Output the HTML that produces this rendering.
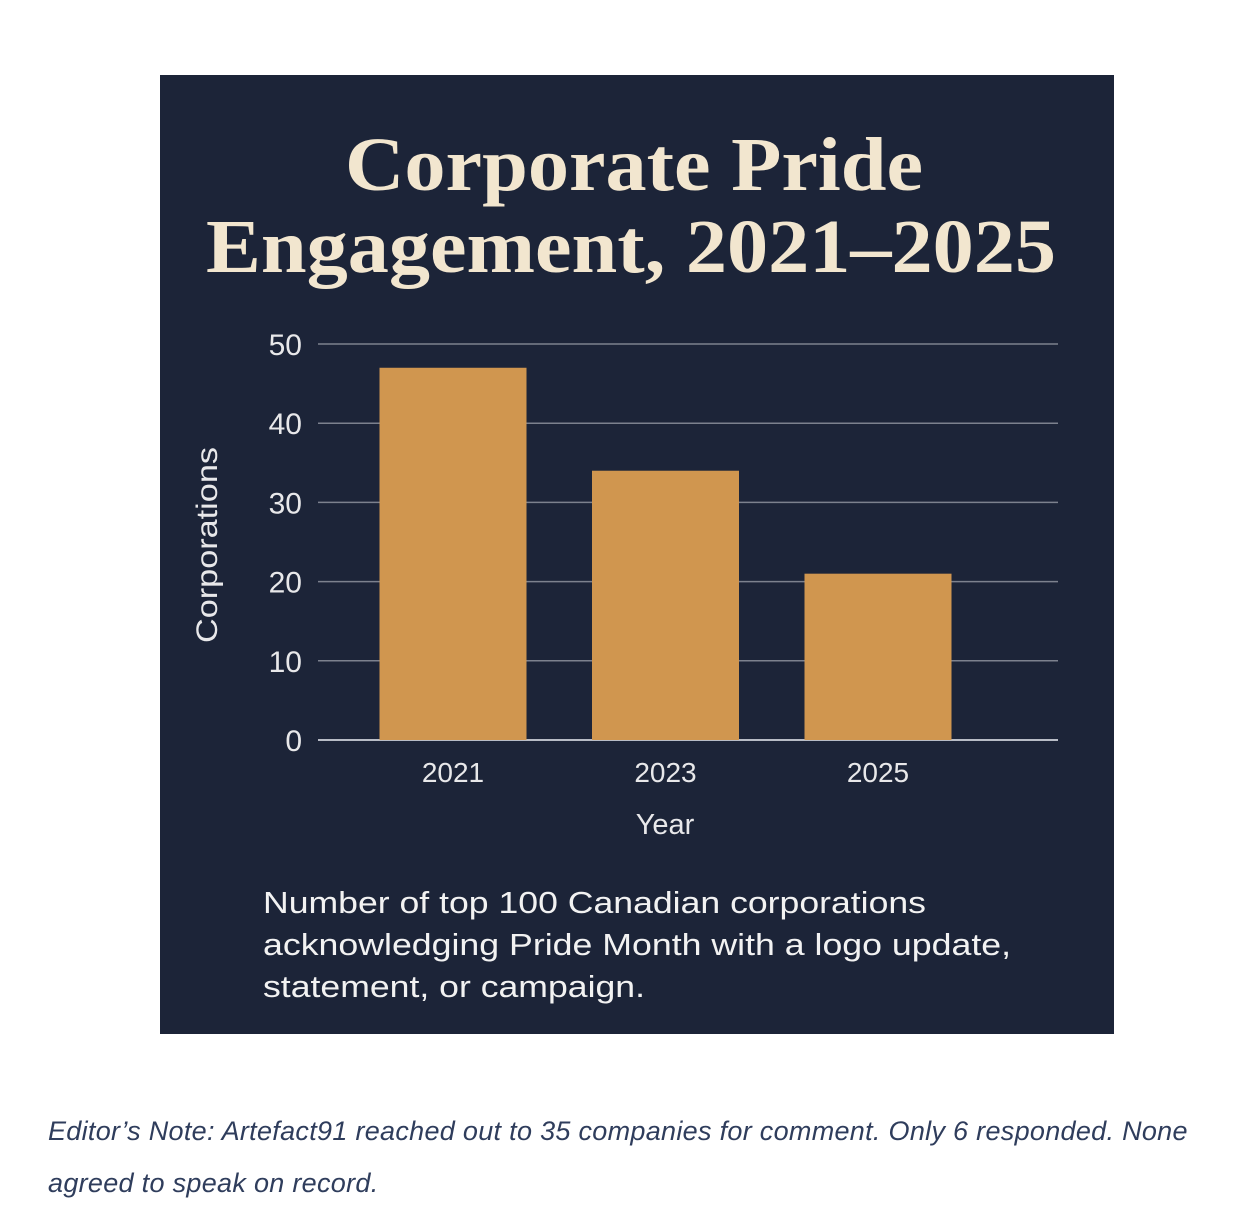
<!DOCTYPE html>
<html><head><meta charset="utf-8"><style>
body{margin:0;background:#fff;width:1236px;height:1224px;position:relative;overflow:hidden}
.panel{position:absolute;left:160px;top:75px;width:954px;height:959px;background:#1c2438}
.note{position:absolute;left:48px;top:1105px;width:1180px;font-family:"Liberation Sans",sans-serif;font-style:italic;font-size:27px;line-height:52px;color:#2f3d5c;letter-spacing:0.3px;white-space:nowrap}
</style></head><body>
<div class="panel"></div>
<svg id="chart" width="1236" height="1224" style="position:absolute;left:0;top:0">
<text x="345" y="190" textLength="578" lengthAdjust="spacingAndGlyphs" font-family="Liberation Serif,serif" font-weight="bold" font-size="76" fill="#f2e6cf">Corporate Pride</text>
<text x="206" y="272" textLength="850" lengthAdjust="spacingAndGlyphs" font-family="Liberation Serif,serif" font-weight="bold" font-size="76" fill="#f2e6cf">Engagement, 2021–2025</text>
<g id="grid"></g><g id="bars"></g><g id="labels"></g>
<text x="665" y="834" text-anchor="middle" font-family="Liberation Sans,sans-serif" font-size="29" fill="#e8e8ea">Year</text>
<text transform="translate(217,545) rotate(-90)" text-anchor="middle" textLength="196" lengthAdjust="spacingAndGlyphs" font-family="Liberation Sans,sans-serif" font-size="30" fill="#e8e8ea">Corporations</text>
<g font-family="Liberation Sans,sans-serif" font-size="31" fill="#f2f2f2">
<text x="263" y="913" textLength="663" lengthAdjust="spacingAndGlyphs">Number of top 100 Canadian corporations</text>
<text x="263" y="955" textLength="748" lengthAdjust="spacingAndGlyphs">acknowledging Pride Month with a logo update,</text>
<text x="263" y="997" textLength="382" lengthAdjust="spacingAndGlyphs">statement, or campaign.</text>
</g>
</svg>
<div class="note">Editor’s Note: Artefact91 reached out to 35 companies for comment. Only 6 responded. None<br>agreed to speak on record.</div>
<script>
const categories=["2021","2023","2025"];
const values=[47,34,21];
const yTicks=[0,10,20,30,40,50];
const NS="http://www.w3.org/2000/svg";
const y0=740,y1=344,vmax=50;
const y=v=>y0-(y0-y1)*v/vmax;
const xc=i=>453+i*212.5;
const bw=147;
function mk(t,a,p){const e=document.createElementNS(NS,t);for(const k in a)e.setAttribute(k,a[k]);p.appendChild(e);return e;}
const grid=document.getElementById('grid'),bars=document.getElementById('bars'),labels=document.getElementById('labels');
yTicks.forEach(t=>{
 const l=mk('line',{x1:318,x2:1058,y1:y(t),y2:y(t),stroke:t===0?'#b8bcc6':'#7c818e','stroke-width':t===0?2:1.5},grid);
 
 
 const tx=mk('text',{x:302,y:y(t)+11,'text-anchor':'end','font-family':'Liberation Sans,sans-serif','font-size':30,fill:'#e8e8ea'},labels);
 tx.textContent=t;
 
 
});
categories.forEach((c,i)=>{
 const r=mk('rect',{x:xc(i)-bw/2,y:y(values[i]),width:bw,height:y0-y(values[i]),fill:'#d0964f'},bars);
 
 
 const tx=mk('text',{x:xc(i),y:782,'text-anchor':'middle','font-family':'Liberation Sans,sans-serif','font-size':28,fill:'#e8e8ea'},labels);
 tx.textContent=c;
 
 
});
</script>
</body></html>
